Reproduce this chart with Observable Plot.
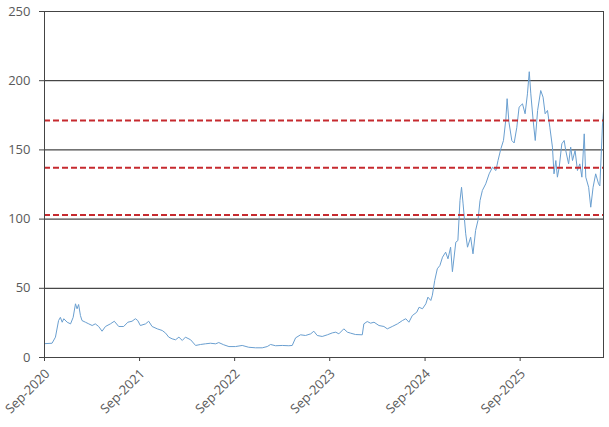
<!DOCTYPE html>
<html>
<head>
<meta charset="utf-8">
<script src="https://cdn.jsdelivr.net/npm/d3@7"></script>
<script src="https://cdn.jsdelivr.net/npm/@observablehq/plot@0.6"></script>
<style>
  html, body { margin: 0; padding: 0; background: #fff; }
  #chart { width: 609px; height: 427px; }
</style>
</head>
<body>
<div id="chart"></div>
<script>
const dates = [
  "2020-09-01","2020-09-30","2020-10-13","2020-10-25","2020-11-01","2020-11-08","2020-11-14","2020-11-27",
  "2020-12-10","2020-12-20","2020-12-29","2021-01-04","2021-01-10","2021-01-17","2021-01-23","2021-02-05",
  "2021-02-18","2021-03-03","2021-03-15","2021-03-28","2021-04-10","2021-04-23","2021-05-12","2021-05-27",
  "2021-06-13","2021-07-02","2021-07-18","2021-08-03","2021-08-16","2021-08-25","2021-09-04","2021-09-24",
  "2021-10-06","2021-10-19","2021-11-08","2021-11-27","2021-12-10","2021-12-22","2022-01-04","2022-01-17",
  "2022-01-30","2022-02-12","2022-02-24","2022-03-16","2022-04-04","2022-04-23","2022-05-12","2022-05-31",
  "2022-06-20","2022-07-02","2022-07-21","2022-08-10","2022-09-04","2022-09-30","2022-10-25","2022-11-20",
  "2022-12-16","2023-01-04","2023-01-17","2023-02-05","2023-03-03","2023-03-28","2023-04-10","2023-04-23",
  "2023-05-12","2023-05-31","2023-06-20","2023-07-02","2023-07-15","2023-08-03","2023-08-23","2023-09-11",
  "2023-09-24","2023-10-06","2023-10-25","2023-11-08","2023-11-20","2023-12-09","2024-01-04","2024-01-10",
  "2024-01-23","2024-02-05","2024-02-18","2024-03-08","2024-03-27","2024-04-09","2024-04-28","2024-05-18",
  "2024-06-06","2024-06-19","2024-07-01","2024-07-14","2024-07-31","2024-08-09","2024-08-22","2024-09-04",
  "2024-09-12","2024-09-23","2024-09-29","2024-10-08","2024-10-18","2024-10-28","2024-11-07","2024-11-19",
  "2024-11-28","2024-12-08","2024-12-15","2024-12-28","2025-01-05","2025-01-13","2025-01-19","2025-01-25",
  "2025-02-04","2025-02-11","2025-02-23","2025-03-04","2025-03-14","2025-03-23","2025-03-31","2025-04-09",
  "2025-04-22","2025-05-05","2025-05-18","2025-05-31","2025-06-08","2025-06-19","2025-06-29","2025-07-08",
  "2025-07-13","2025-07-20","2025-07-31","2025-08-09","2025-08-19","2025-08-28","2025-09-10","2025-09-20",
  "2025-09-29","2025-10-06","2025-10-12","2025-10-21","2025-10-29","2025-11-07","2025-11-19","2025-11-28",
  "2025-12-06","2025-12-15","2025-12-24","2026-01-03","2026-01-09","2026-01-16","2026-01-22","2026-01-29",
  "2026-02-08","2026-02-17","2026-02-23","2026-03-06","2026-03-14","2026-03-21","2026-03-31","2026-04-09",
  "2026-04-18","2026-04-26","2026-05-05","2026-05-11","2026-05-22","2026-05-30","2026-06-08","2026-06-18",
  "2026-06-29","2026-07-04","2026-07-10","2026-07-14","2026-07-18"
];
const values = [
  10, 10.3, 14.7, 26.7, 29, 25.5, 28, 25.5,
  24.3, 29, 38.8, 35.2, 38.3, 30.3, 26.7, 25.5,
  24.3, 23.1, 24.3, 22.4, 19, 22.4, 24.3, 26.2,
  22.4, 22.4, 25.5, 26.2, 28, 26.7, 23.1, 24.3,
  26.2, 22.4, 20.7, 19.5, 17.6, 14.7, 13.5, 12.8,
  14.7, 12.3, 14.7, 12.8, 8.7, 9.4, 9.9, 10.3,
  9.9, 10.8, 9.2, 7.9, 7.9, 8.7, 7.4, 7,
  7, 7.9, 9.4, 8.5, 8.7, 8.5, 8.7, 14.2,
  16.4, 15.9, 17.1, 19, 15.9, 15.2, 16.4, 17.8,
  18.3, 17.1, 20.7, 18.3, 17.6, 16.6, 16.4, 24.3,
  26, 24.8, 25.5, 23.1, 22.4, 20.7, 22.4, 24.3,
  26.7, 28, 25.5, 30.3, 32.7, 36.3, 35.2, 38.8,
  43.6, 41.2, 45, 55.6, 64.1, 66.5, 72.5, 76.1,
  71.3, 79.7, 62, 83.3, 84.5, 113.4, 123, 111,
  89.4, 79.7, 86.9, 74.9, 91.8, 99, 113.4, 120.7,
  125.5, 132.7, 137.5, 135.1, 142.3, 150.8, 156.8, 172,
  187, 170, 156.8, 155, 166, 180.9, 183.3, 176.1,
  190.5, 206.5, 190.5, 171.2, 156.8, 178.5, 192.9, 188.1,
  176.1, 178.5, 166.4, 152, 132.7, 142.3, 130.3, 137.5,
  154.4, 156.8, 149.6, 139.9, 152, 142.3, 149.6, 135.1,
  139.9, 130.3, 161.6, 130.3, 123, 108.6, 123, 132.7,
  125.5, 124, 150, 168, 178
];
const levels = [171.2, 137.1, 103.0];
const yTicks = [0, 50, 100, 150, 200, 250];
const gridValues = [50, 100, 150, 200, 250];
const xTickDates = ["2020-09-01","2021-09-01","2022-09-01","2023-09-01","2024-09-01","2025-09-01"];
const xDomain = ["2020-09-01", "2026-07-18"];

const parse = d3.utcParse("%Y-%m-%d");
const data = dates.map((d, i) => ({date: parse(d), value: values[i]}));
const fmt = d3.utcFormat("%b-%Y");
const xTicks = xTickDates.map(parse);

const chart = Plot.plot({
  width: 609,
  height: 427,
  marginLeft: 44,
  marginRight: 6,
  marginTop: 11,
  marginBottom: 70,
  style: {fontFamily: "'Open Sans', sans-serif", fontSize: "13px", color: "#595959", background: "#fff"},
  x: {type: "utc", domain: xDomain.map(parse)},
  y: {domain: [0, 250]},
  marks: [
    Plot.ruleY(gridValues, {stroke: "#1a1a1a", strokeWidth: 1}),
    Plot.lineY(data, {x: "date", y: "value", stroke: "#6a9fd0", strokeWidth: 1}),
    Plot.ruleY(levels, {stroke: "#c62a2f", strokeWidth: 2, strokeDasharray: "6,3"}),
    Plot.frame({stroke: "#444", strokeWidth: 1}),
    Plot.axisY({ticks: yTicks, tickSize: 5, tickPadding: 9, stroke: "#444", fill: "#595959", label: null}),
    Plot.axisX({ticks: xTicks, tickSize: 4, stroke: "#444", text: null, label: null}),
    Plot.axisX({ticks: xTicks, tickFormat: fmt, tickSize: 0, tickPadding: 14, tickRotate: -45, fontSize: 13, dx: 3, fill: "#595959", label: null})
  ]
});
document.getElementById("chart").appendChild(chart);
</script>
</body>
</html>
